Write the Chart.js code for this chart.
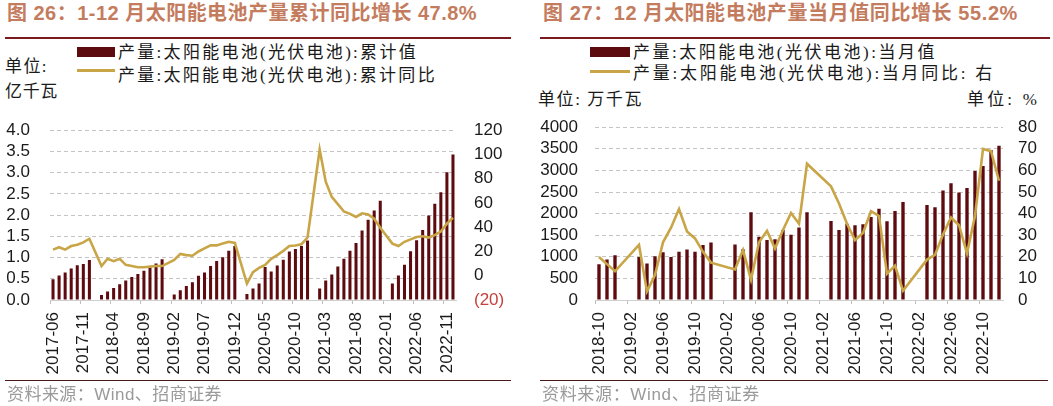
<!DOCTYPE html>
<html lang="zh-CN">
<head>
<meta charset="utf-8">
<title>太阳能电池产量</title>
<script src="https://cdn.jsdelivr.net/npm/chart.js@4.4.3/dist/chart.umd.min.js"></script>
<style>
  html, body { margin:0; padding:0; background:#fff; }
  body { width:1053px; height:406px; position:relative; overflow:hidden;
         font-family:"Liberation Sans","Noto Sans CJK SC",sans-serif; }
  .title { position:absolute; font-weight:bold; font-size:20px; line-height:20px; color:#C47C5E; white-space:nowrap; }
  .rule { position:absolute; top:37px; height:2px; background:#7A1A1E; }
  .foot { position:absolute; top:380px; height:1px; background:#4A1A1A; }
  .src { position:absolute; top:387px; font-size:17px; line-height:16px; color:#9A9A9A; white-space:nowrap; }
  .txt { position:absolute; font-family:"Liberation Serif","Noto Sans CJK SC",serif; font-size:17px; line-height:17px;
         color:#1A1A1A; white-space:nowrap; }
  .sw-bar { position:absolute; width:38px; height:10px; background:#5E0B10; }
  .sw-line { position:absolute; width:38px; height:3px; background:#C8A547; }
  canvas { position:absolute; }
</style>
</head>
<body>

<!-- 图 26 -->
<div class="title" data-w="470" style="left:7px;top:3px;">图 26：1-12 月太阳能电池产量累计同比增长 47.8%</div>
<div class="rule" style="left:5px;width:506px;"></div>
<div class="sw-bar" style="left:77px;top:47px;"></div>
<div class="txt" id="legA1" data-w="300" style="left:118px;top:44px;"></div>
<div class="sw-line" style="left:77px;top:69px;"></div>
<div class="txt" id="legA2" data-w="319" style="left:118px;top:67px;"></div>
<div class="txt" data-w="43" style="left:5px;top:58px;">单位:</div>
<div class="txt" data-w="53" style="left:5px;top:83px;">亿千瓦</div>
<canvas id="chartA" width="520" height="285" style="left:0;top:100px;"></canvas>
<div class="foot" style="left:5px;width:506px;"></div>
<div class="src" data-w="215" style="left:7px;">资料来源：Wind、招商证券</div>

<!-- 图 27 -->
<div class="title" data-w="475" style="left:543px;top:3px;">图 27：12 月太阳能电池产量当月值同比增长 55.2%</div>
<div class="rule" style="left:540px;width:510px;"></div>
<div class="sw-bar" style="left:590px;top:47px;width:40px;"></div>
<div class="txt" id="legB1" data-w="304" style="left:633px;top:44px;"></div>
<div class="sw-line" style="left:590px;top:70px;width:40px;"></div>
<div class="txt" id="legB2" data-w="362" style="left:633px;top:65px;"></div>
<div class="txt" data-w="105" style="left:538px;top:91px;">单位: 万千瓦</div>
<div class="txt" data-w="73" style="right:13px;top:91px;">单位: %</div>
<canvas id="chartB" width="523" height="285" style="left:530px;top:100px;"></canvas>
<div class="foot" style="left:540px;width:508px;"></div>
<div class="src" data-w="218" style="left:542px;">资料来源：Wind、招商证券</div>

<script>
/* ── 图 26 data: 累计值 (亿千瓦) / 累计同比 (%) ── */
const cumMonths = [
  '2017-06','2017-07','2017-08','2017-09','2017-10','2017-11','2017-12',
  '2018-01','2018-02','2018-03','2018-04','2018-05','2018-06','2018-07','2018-08','2018-09','2018-10','2018-11','2018-12',
  '2019-01','2019-02','2019-03','2019-04','2019-05','2019-06','2019-07','2019-08','2019-09','2019-10','2019-11','2019-12',
  '2020-01','2020-02','2020-03','2020-04','2020-05','2020-06','2020-07','2020-08','2020-09','2020-10','2020-11','2020-12',
  '2021-01','2021-02','2021-03','2021-04','2021-05','2021-06','2021-07','2021-08','2021-09','2021-10','2021-11','2021-12',
  '2022-01','2022-02','2022-03','2022-04','2022-05','2022-06','2022-07','2022-08','2022-09','2022-10','2022-11','2022-12'
];
const cumValue = [
  0.49, 0.58, 0.65, 0.74, 0.82, 0.85, 0.94,
  null, 0.12, 0.20, 0.28, 0.37, 0.46, 0.54, 0.61, 0.69, 0.77, 0.86, 0.96,
  null, 0.13, 0.23, 0.33, 0.42, 0.57, 0.65, 0.80, 0.92, 1.01, 1.16, 1.27,
  null, 0.14, 0.27, 0.39, 0.78, 0.67, 0.81, 0.95, 1.14, 1.20, 1.27, 1.40,
  null, 0.27, 0.46, 0.60, 0.79, 0.97, 1.16, 1.34, 1.64, 1.89, 2.11, 2.34,
  null, 0.39, 0.58, 0.83, 1.15, 1.41, 1.65, 1.99, 2.27, 2.54, 3.01, 3.43
];
const cumYoY = [
  21.5, 23.5, 21.5, 24.5, 25.5, 27.5, 30.5,
  null, 8, 14, 12, 14, 9, 8, 7, 7, 7.5, 8, 8,
  null, 13, 18, 17, 16.5, 20, 22.5, 25, 25, 26.5, 28, 27,
  null, -6.5, 3, 6.5, 9, 14, 17, 20.5, 24.5, 25, 26, 31.5,
  null, 104, 77.5, 65, 59, 53, 51, 48.5, 51.5, 50.5, 47, 39.5,
  null, 26.5, 24.5, 28, 30, 32, 32.5, 31.5, 33.5, 36.5, 43, 47.8
];
const cumBarLabel  = '产量:太阳能电池(光伏电池):累计值';
const cumLineLabel = '产量:太阳能电池(光伏电池):累计同比';

/* ── 图 27 data: 当月值 (万千瓦) / 当月同比 (%) ── */
const monMonths = [
  '2018-10','2018-11','2018-12',
  '2019-01','2019-02','2019-03','2019-04','2019-05','2019-06','2019-07','2019-08','2019-09','2019-10','2019-11','2019-12',
  '2020-01','2020-02','2020-03','2020-04','2020-05','2020-06','2020-07','2020-08','2020-09','2020-10','2020-11','2020-12',
  '2021-01','2021-02','2021-03','2021-04','2021-05','2021-06','2021-07','2021-08','2021-09','2021-10','2021-11','2021-12',
  '2022-01','2022-02','2022-03','2022-04','2022-05','2022-06','2022-07','2022-08','2022-09','2022-10','2022-11','2022-12'
];
const monValue = [
  829, 940, 1035,
  null, null, 995, 843, 1015, 1103, 995, 1117, 1170, 1117, 1276, 1333,
  null, null, 1283, 1175, 2032, 1463, 1391, 1405, 1622, 1513, 1679, 2032,
  null, null, 1831, 1622, 1766, 1730, 1751, 1924, 2112, 1823, 2061, 2270,
  null, null, 2198, 2148, 2537, 2703, 2486, 2595, 2984, 3099, 3474, 3568
];
const monYoY = [
  19.9, 16.6, 13.3,
  null, null, 25.5, 4, 11.5, 26.7, 33.5, 42.1, 31.7, 28.5, 22.3, 17.3,
  null, null, 14.1, 23.1, 9.4, 26.7, 32, 23.8, 32.4, 40.3, 35.3, 63.1,
  null, null, 52.6, 44.7, 35.3, 27.7, 31, 41.1, 38.9, 12.2, 15.9, 4.3,
  null, null, 18.7, 20.9, 30.3, 38.2, 34.6, 21.6, 38.9, 69.9, 68.9, 55.2
];
const monBarLabel  = '产量:太阳能电池(光伏电池):当月值';
const monLineLabel = '产量:太阳能电池(光伏电池):当月同比: 右';

const BAR_COLOR  = '#5E0B10';
const LINE_COLOR = '#C8A547';
const TICK_FONT  = { family: '"Liberation Sans", Arial, sans-serif', size: 17 };

document.getElementById('legA1').textContent = cumBarLabel;
document.getElementById('legA2').textContent = cumLineLabel;
document.getElementById('legB1').textContent = monBarLabel;
document.getElementById('legB2').textContent = monLineLabel;

// stretch each text to the width it has in the source figure
function fitTexts() {
  document.querySelectorAll('[data-w]').forEach(el => {
    el.style.letterSpacing = '0px';
    const w = el.getBoundingClientRect().width;
    const n = el.textContent.length;
    el.style.letterSpacing = ((+el.dataset.w - w) / n).toFixed(2) + 'px';
  });
}
fitTexts();
if (document.fonts) document.fonts.ready.then(fitTexts);

function makeChart(canvasId, o) {
  return new Chart(document.getElementById(canvasId), {
    type: 'bar',
    data: {
      labels: o.labels,
      datasets: [
        { type: 'line', label: o.lineLabel, data: o.line, yAxisID: 'y1', order: 0,
          borderColor: LINE_COLOR, borderWidth: 2.6, pointRadius: 0, tension: 0, spanGaps: true },
        { type: 'bar', label: o.barLabel, data: o.bars, yAxisID: 'y', order: 1,
          backgroundColor: BAR_COLOR, barPercentage: o.barPct, categoryPercentage: 1 }
      ]
    },
    options: {
      responsive: false,
      animation: false,
      layout: { padding: { top: o.padTop, left: 0, right: 0, bottom: 0 } },
      plugins: { legend: { display: false }, tooltip: { enabled: false } },
      scales: {
        x: {
          afterFit: s => { s.height = 85; },
          grid: { drawOnChartArea: false, drawTicks: true, tickLength: 4, offset: true,
                  color: c => (c.index % o.every === 0 ? '#BDBDBD' : 'rgba(0,0,0,0)') },
          border: { color: '#CFCFCF', width: 1 },
          ticks: { autoSkip: false, minRotation: 90, maxRotation: 90, padding: 8,
                   font: TICK_FONT, color: '#1A1A1A',
                   callback: (v, i) => (i % o.every === 0 ? o.labels[i] : '') }
        },
        y: {
          position: 'left', min: o.left.min, max: o.left.max,
          afterFit: s => { s.width = o.left.width; },
          grid: { color: '#C4C4C4', lineWidth: 1, drawTicks: false },
          border: { display: false, dash: [4, 3] },
          ticks: { autoSkip: false, stepSize: o.left.step, padding: o.left.pad, font: TICK_FONT, color: '#1A1A1A',
                   callback: o.left.fmt }
        },
        y1: {
          position: 'right', min: o.right.min, max: o.right.max,
          afterFit: s => { s.width = o.right.width; },
          grid: { display: false, drawTicks: false },
          border: { display: false },
          ticks: { autoSkip: false, stepSize: o.right.step, padding: o.right.pad, font: TICK_FONT,
                   color: c => (c.tick.value < 0 ? '#C4403F' : '#1A1A1A'),
                   callback: v => (v < 0 ? '(' + (-v) + ')' : String(v)) }
        }
      }
    }
  });
}

// 图 26: 累计
makeChart('chartA', {
  labels: cumMonths, bars: cumValue, line: cumYoY,
  barLabel: cumBarLabel, lineLabel: cumLineLabel,
  every: 5, barPct: 0.5, padTop: 11,
  left:  { min: 0, max: 4, step: 0.5, width: 50, pad: 20, fmt: v => v.toFixed(1) },
  right: { min: -20, max: 120, step: 20, width: 64, pad: 18 }
});

// 图 27: 当月
makeChart('chartB', {
  labels: monMonths, bars: monValue, line: monYoY,
  barLabel: monBarLabel, lineLabel: monLineLabel,
  every: 4, barPct: 0.42, padTop: 15,
  left:  { min: 0, max: 4000, step: 500, width: 65, pad: 17, fmt: v => String(v) },
  right: { min: 0, max: 80, step: 10, width: 50, pad: 15 }
});
</script>
</body>
</html>
